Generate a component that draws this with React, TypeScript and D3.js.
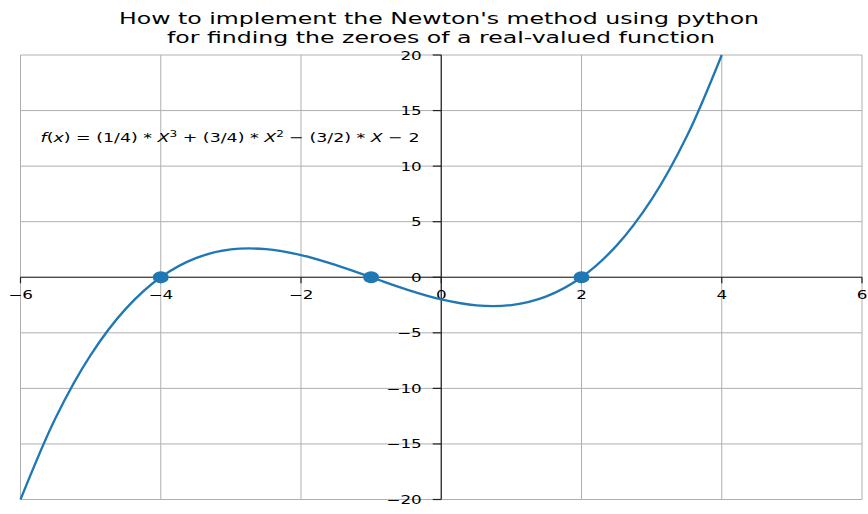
import React from "react";
import * as d3 from "d3";

const titleLines = [
  "How to implement the Newton's method using python",
  "for finding the zeroes of a real-valued function",
];
const xTicks = [-6, -4, -2, 0, 2, 4, 6];
const yTicks = [-20, -15, -10, -5, 0, 5, 10, 15, 20];
const curveX = [-6, -5.5, -5, -4.5, -4, -3.5, -3, -2.5, -2, -1.5, -1, -0.5, 0, 0.5, 1, 1.5, 2, 2.5, 3, 3.5, 4];
const curveY = [-20, -12.65625, -7, -2.84375, 0, 1.71875, 2.5, 2.53125, 2, 1.09375, 0, -1.09375, -2, -2.53125, -2.5, -1.71875, 0, 2.84375, 7, 12.65625, 20];
const rootsX = [-4, -1, 2];
const rootsY = [0, 0, 0];

const W = 868, H = 514;
const SX = 1.4; // horizontal stretch of the reference figure
const fmt = (v: number) => (v < 0 ? "\u2212" + Math.abs(v) : String(v));

function T({ x, y, anchor, size, sx, children }: { x: number; y: number; anchor?: string; size: number; sx: number; children: React.ReactNode }) {
  return (
    <g transform={`translate(${x},${y}) scale(${sx},1)`}>
      <text x={0} y={0} textAnchor={anchor || "start"} fontSize={size} fill="#000">{children}</text>
    </g>
  );
}

export default function App() {
  const x = d3.scaleLinear().domain([-6, 6]).range([20.5, 862]);
  const y = d3.scaleLinear().domain([-20, 20]).range([499.5, 55]);
  const pts = curveX.map((v, i) => [v, curveY[i]] as [number, number]);
  const line = d3.line<[number, number]>().x(d => x(d[0])).y(d => y(d[1])).curve(d3.curveCatmullRom);
  const font = "'DejaVu Sans', sans-serif";
  const x0 = x(0), y0 = y(0);
  const blue = "#1f77b4";
  return (
    <svg width={W} height={H} style={{ position: "absolute", left: 0, top: 0 }} fontFamily={font}>
      <rect width={W} height={H} fill="#fff" />
      <T x={439} y={23.5} anchor="middle" size={15} sx={1.575}>{titleLines[0]}</T>
      <T x={441} y={42.5} anchor="middle" size={15} sx={1.575}>{titleLines[1]}</T>
      {xTicks.map(t => (
        <line key={"gx" + t} x1={x(t)} x2={x(t)} y1={y(20)} y2={y(-20)} stroke="#b0b0b0" strokeWidth={1} />
      ))}
      {yTicks.map(t => (
        <line key={"gy" + t} x1={x(-6)} x2={x(6)} y1={y(t)} y2={y(t)} stroke="#b0b0b0" strokeWidth={1} />
      ))}
      <line x1={x(-6)} x2={x(6)} y1={y0} y2={y0} stroke="#222" strokeWidth={1.2} />
      <line x1={x0} x2={x0} y1={y(20)} y2={y(-20)} stroke="#222" strokeWidth={1.2} />
      {xTicks.map(t => (
        <g key={"tx" + t}>
          <line x1={x(t)} x2={x(t)} y1={y0} y2={y0 + 6} stroke="#222" strokeWidth={1.2} />
          <T x={x(t)} y={y0 + 21.5} anchor="middle" size={12} sx={SX}>{fmt(t)}</T>
        </g>
      ))}
      {yTicks.map(t => (
        <g key={"ty" + t}>
          <line x1={x0 - 8.5} x2={x0} y1={y(t)} y2={y(t)} stroke="#222" strokeWidth={1.2} />
          <T x={x0 - 19.5} y={y(t) + 4.5} anchor="end" size={12} sx={SX}>{fmt(t)}</T>
        </g>
      ))}
      <path d={line(pts) || ""} fill="none" stroke={blue} strokeWidth={2.3} />
      {rootsX.map((v, i) => (
        <ellipse key={"r" + i} cx={x(v)} cy={y(rootsY[i])} rx={8} ry={6} fill={blue} />
      ))}
      <T x={40.5} y={142} size={13} sx={1.34}>
        <tspan fontStyle="italic">f</tspan>
        <tspan>(</tspan>
        <tspan fontStyle="italic">x</tspan>
        <tspan>{") = (1/4) * "}</tspan>
        <tspan fontStyle="italic">X</tspan>
        <tspan fontSize={9} dy={-5}>3</tspan>
        <tspan dy={5}>{" + (3/4) * "}</tspan>
        <tspan fontStyle="italic">X</tspan>
        <tspan fontSize={9} dy={-5}>2</tspan>
        <tspan dy={5}>{" \u2212 (3/2) * "}</tspan>
        <tspan fontStyle="italic">X</tspan>
        <tspan>{" \u2212 2"}</tspan>
      </T>
    </svg>
  );
}
